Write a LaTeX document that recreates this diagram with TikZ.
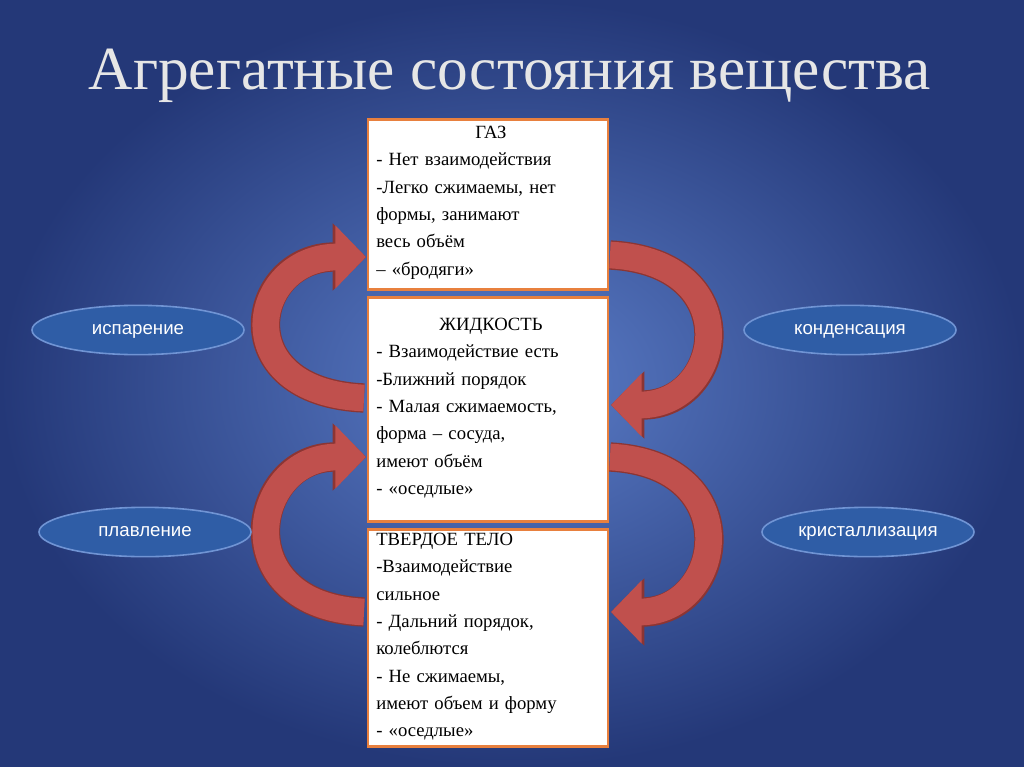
\documentclass[tikz,border=0pt]{standalone}
\usepackage{fontspec}
\setmainfont{Liberation Serif}
\newfontfamily\sansf{Liberation Sans}
\usetikzlibrary{arrows.meta,shapes.geometric}
\definecolor{bgin}{HTML}{5B7DC8}
\definecolor{bgout}{HTML}{243878}
\definecolor{boxline}{HTML}{E8803E}
\definecolor{arrred}{HTML}{C0504D}
\definecolor{arrdark}{HTML}{8C3533}
\definecolor{ellfill}{HTML}{2F5DA6}
\definecolor{elledge}{HTML}{7094D4}
\tikzset{
  infobox/.style={draw=boxline,line width=2pt,fill=white,minimum width=180pt,anchor=north,inner sep=0pt},
  infotext/.style={anchor=north west,text width=172pt,align=left,font=\fontsize{14}{20.5}\selectfont,inner sep=0pt},
  procell/.style={ellipse,draw=elledge,line width=1.2pt,fill=ellfill,minimum width=159pt,minimum height=37pt,inner sep=0pt,text=white,font=\sansf\fontsize{14}{16}\selectfont},
  bigarrow/.style={line width=20pt,draw=arrred,-{Triangle[width=46pt,length=23pt]},preaction={draw=arrdark,line width=22pt,-{Triangle[width=49pt,length=25pt]}}}
}
\begin{document}
\begin{tikzpicture}[x=0.75pt,y=-0.75pt]
\shade[inner color=bgin,outer color=bgout] (0,0) rectangle (1024,767);
\useasboundingbox (0,0) rectangle (1024,767);
\node (title) at (510,76) {\color[HTML]{E6E6E6}\fontsize{46}{52}\selectfont Агрегатные состояния вещества};
% arrows
\coordinate (la1) at (364,398); \coordinate (la2) at (366,257);
\coordinate (ra1) at (610,255); \coordinate (ra2) at (611,405);
\coordinate (lb1) at (364,612); \coordinate (lb2) at (366,457);
\coordinate (rb1) at (610,457); \coordinate (rb2) at (611,612);
\draw[bigarrow] (la1) .. controls (225,392) and (250,257) .. (la2);
\draw[bigarrow] (ra1) .. controls (748,262) and (725,405) .. (ra2);
\draw[bigarrow] (lb1) .. controls (225,606) and (250,457) .. (lb2);
\draw[bigarrow] (rb1) .. controls (748,464) and (725,612) .. (rb2);
% boxes
\node[infobox,minimum height=127.5pt] (gas) at (488,118) {};
\node[infobox,minimum height=168pt] (liq) at (488,296) {};
\node[infobox,minimum height=163pt] (sol) at (488,528) {};
\node[infotext] (gast) at (376,126) {\makebox[\linewidth]{ГАЗ}\\- Нет взаимодействия\\-Легко сжимаемы, нет\\формы, занимают\\весь объём\\-- «бродяги»};
\node[infotext] (liqt) at (376,318) {\makebox[\linewidth]{ЖИДКОСТЬ}\\- Взаимодействие есть\\-Ближний порядок\\- Малая сжимаемость,\\форма -- сосуда,\\имеют объём\\- «оседлые»};
\node[infotext] (solt) at (376,533) {ТВЕРДОЕ ТЕЛО\\-Взаимодействие\\сильное\\- Дальний порядок,\\колеблются\\- Не сжимаемы,\\имеют объем и форму\\- «оседлые»};
% ellipses
\node[procell] (isp) at (138,330) {\strut испарение};
\node[procell] (kond) at (850,330) {\strut конденсация};
\node[procell] (plav) at (145,532) {\strut плавление};
\node[procell] (kris) at (868,532) {\strut кристаллизация};
\end{tikzpicture}
\end{document}
